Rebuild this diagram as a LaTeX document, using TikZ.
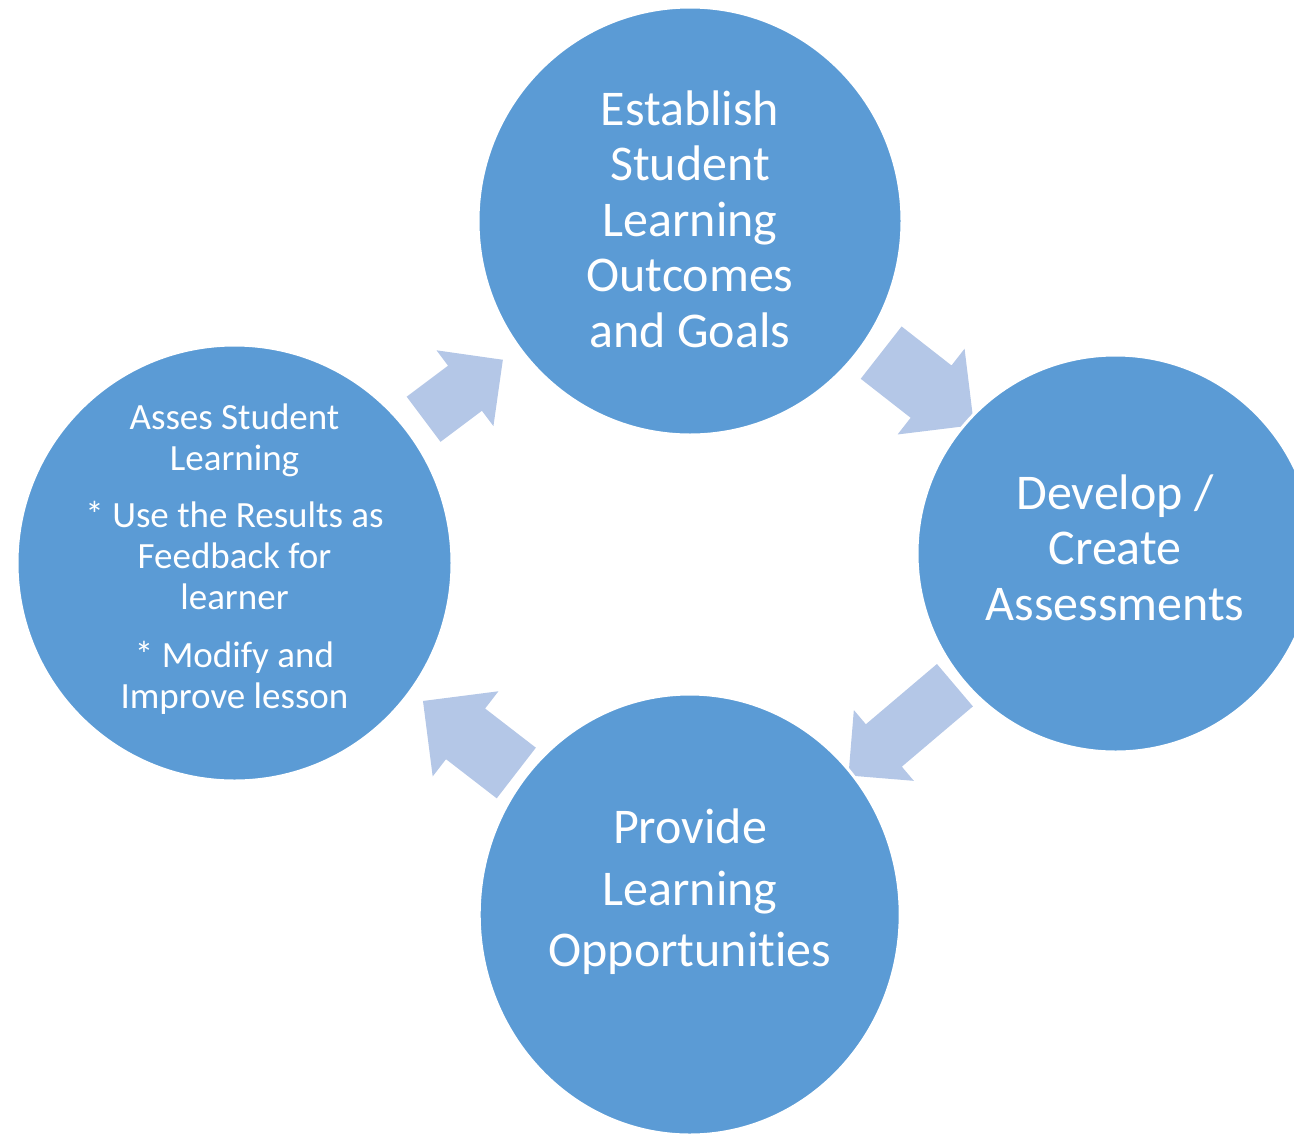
\documentclass[tikz,border=0pt]{standalone}
\usepackage{fontspec}
\setmainfont{Carlito}[Ligatures=NoCommon]
\usetikzlibrary{shapes.geometric,calc,backgrounds}

\definecolor{stageblue}{HTML}{5B9BD5}
\definecolor{flowblue}{HTML}{B4C7E7}

% block arrow along the line between two stages:
% from, to, tail pos, tip pos, shaft half width, head half width, side offset
\newcommand{\cyclearrow}[7]{%
  \path (#1.center) -- (#2.center) coordinate[pos=#3] (ca) coordinate[pos=#4] (cb);
  \coordinate (ta) at ($(ca)!#7!90:(cb)$);
  \coordinate (tb) at ($(cb)!#7!-90:(ca)$);
  \coordinate (th) at ($(tb)!#6!(ta)$);
  \fill[flow] ($(ta)!#5!90:(tb)$) -- ($(th)!#5!90:(tb)$) -- ($(th)!#6!90:(tb)$) -- (tb)
    -- ($(th)!#6!-90:(tb)$) -- ($(th)!#5!-90:(tb)$) -- ($(ta)!#5!-90:(tb)$) -- cycle;}

\begin{document}
\begin{tikzpicture}[x=.5pt,y=-.5pt,
  stage/.style={ellipse,fill=stageblue,draw=white,line width=1.5pt,inner sep=0pt},
  flow/.style={fill=flowblue},
  big/.style={text=white,align=center,anchor=base,font=\fontsize{25}{27.75}\selectfont},
  small/.style={text=white,align=center,anchor=base,font=\fontsize{18.5}{20.5}\selectfont}]
\useasboundingbox (0,0) rectangle (1294,1135);
\clip (0,0) rectangle (1294,1135);
% the four stages
\node[stage,minimum width=212pt,minimum height=214pt] (goals) at (690,221) {};
\node[stage,minimum width=198.5pt,minimum height=198.5pt] (assess) at (1115.5,553.5) {};
\node[stage,minimum width=210.5pt,minimum height=220.5pt] (learn) at (689.7,914.5) {};
\node[stage,minimum width=217.5pt,minimum height=218pt] (review) at (234.5,563) {};
% texts sit on the baseline of their last line
\node[big] (goalsText) at (690,347) {Establish\\Student\\Learning\\Outcomes\\and Goals};
\node[big] (assessText) at (1115,620) {Develop /\\Create\\Assessments};
\node[big,font=\fontsize{25}{30.85}\selectfont] (learnText) at (690,966.7) {Provide\\Learning\\Opportunities};
\node[small] (reviewText) at (234.5,708.3) {Asses Student\\Learning\\[8.25pt]* Use the Results as\\Feedback for\\learner\\[8.25pt]* Modify and\\Improve lesson};
% arrows go behind the circles
\begin{scope}[on background layer]
\cyclearrow{review}{goals}{.417}{.591}{14.1pt}{23.7pt}{.7pt}
\cyclearrow{goals}{assess}{.429}{.647}{16.6pt}{27.2pt}{7pt}
\cyclearrow{assess}{learn}{.372}{.622}{13.9pt}{23.2pt}{-1.7pt}
\cyclearrow{learn}{review}{.389}{.594}{16pt}{26.9pt}{-3pt}
\end{scope}
\end{tikzpicture}
\end{document}
